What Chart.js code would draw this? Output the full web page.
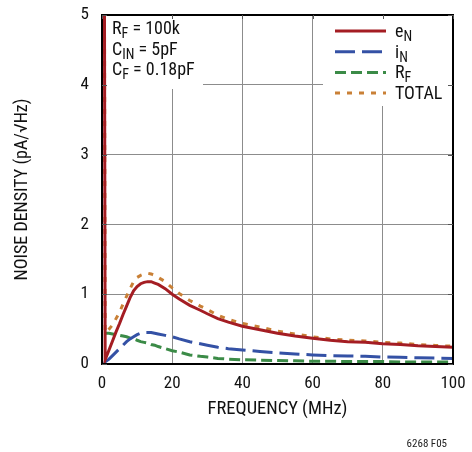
<!DOCTYPE html>
<html><head><meta charset="utf-8">
<script src="https://cdn.jsdelivr.net/npm/chart.js@4/dist/chart.umd.min.js"></script>
<style>html,body{margin:0;padding:0;background:#fff}canvas{display:block}</style>
</head><body>
<canvas id="c" width="472" height="452"></canvas>
<script>
// ---- data ----
const freqMHz = [0.7, 0.9, 2, 3, 4, 5, 6, 7, 8, 9, 10, 11, 12, 13, 14, 15, 16, 18, 20, 22, 25, 28, 30, 33, 36, 40, 45, 50, 55, 60, 65, 70, 75, 80, 85, 90, 95, 100];
const eN    = [5.2, 0.06, 0.2, 0.33, 0.46, 0.58, 0.71, 0.83, 0.95, 1.05, 1.11, 1.15, 1.17, 1.18, 1.18, 1.16, 1.14, 1.08, 1.0, 0.93, 0.84, 0.77, 0.72, 0.65, 0.6, 0.54, 0.49, 0.44, 0.4, 0.37, 0.34, 0.32, 0.31, 0.29, 0.28, 0.26, 0.25, 0.24];
const iN    = [0.0, 0.03, 0.07, 0.12, 0.17, 0.22, 0.27, 0.32, 0.36, 0.39, 0.42, 0.44, 0.45, 0.45, 0.45, 0.44, 0.43, 0.41, 0.39, 0.36, 0.32, 0.29, 0.27, 0.24, 0.22, 0.2, 0.18, 0.16, 0.145, 0.13, 0.12, 0.115, 0.11, 0.1, 0.095, 0.09, 0.085, 0.08];
const rF    = [0.44, 0.44, 0.44, 0.43, 0.42, 0.41, 0.4, 0.39, 0.37, 0.36, 0.34, 0.32, 0.31, 0.3, 0.28, 0.27, 0.25, 0.22, 0.19, 0.17, 0.13, 0.11, 0.1, 0.08, 0.07, 0.06, 0.055, 0.05, 0.045, 0.04, 0.04, 0.035, 0.035, 0.035, 0.03, 0.03, 0.03, 0.03];
const total = [5.2, 0.45, 0.5, 0.56, 0.65, 0.74, 0.86, 0.97, 1.08, 1.18, 1.24, 1.27, 1.29, 1.3, 1.29, 1.27, 1.24, 1.18, 1.09, 1.01, 0.91, 0.83, 0.78, 0.7, 0.64, 0.58, 0.53, 0.47, 0.43, 0.39, 0.36, 0.34, 0.33, 0.31, 0.3, 0.28, 0.265, 0.255];
const xTicks = [0, 20, 40, 60, 80, 100];
const yTicks = [0, 1, 2, 3, 4, 5];
const seriesNames = [["e", "N"], ["i", "N"], ["R", "F"], ["TOTAL", ""]];
const annotationLines = [[["R",""],["F","sub"],[" = 100k",""]], [["C",""],["IN","sub"],[" = 5pF",""]], [["C",""],["F","sub"],[" = 0.18pF",""]]];
const xTitle = "FREQUENCY (MHz)";
const yTitle = "NOISE DENSITY (pA/\u221AHz)";
const figureId = "6268 F05";

const FONT = "'Roboto Condensed', 'Liberation Sans', sans-serif";
const colors = ["#a41d23", "#3451a5", "#3b8b47", "#c98036"];
const dashes = [[], [20, 7], [11, 5], [5, 7]];
const seriesData = [eN, iN, rF, total];

function drawRich(ctx, parts, x, y, size) {
  let cx = x;
  for (const [t, kind] of parts) {
    if (!t) continue;
    if (kind === "sub") {
      ctx.font = `${Math.round(size * 0.8)}px ${FONT}`;
      ctx.fillText(t, cx, y + 4);
    } else {
      ctx.font = `${size}px ${FONT}`;
      ctx.fillText(t, cx, y);
    }
    cx += ctx.measureText(t).width;
  }
}

const overlay = {
  id: "overlay",
  beforeDatasetsDraw(chart) {
    const { ctx, chartArea: a } = chart;
    ctx.save();
    ctx.fillStyle = "#fff";
    ctx.fillRect(a.left, a.top, 101, 74);
    ctx.fillRect(a.right - 130, a.top, 130, 91);
    ctx.restore();
  },
  afterDatasetsDraw(chart) {
    const { ctx, chartArea: a, scales: { x, y } } = chart;
    ctx.save();
    // frame
    ctx.strokeStyle = "#000";
    ctx.lineWidth = 2;
    ctx.strokeRect(a.left, a.top, a.right - a.left, a.bottom - a.top);
    // inward ticks
    ctx.lineWidth = 1;
    ctx.strokeStyle = "#555";
    ctx.beginPath();
    for (const v of xTicks) {
      const px = Math.round(x.getPixelForValue(v)) + 0.5;
      ctx.moveTo(px, a.top); ctx.lineTo(px, a.top + 4);
    }
    for (const v of yTicks) {
      const py = Math.round(y.getPixelForValue(v)) + 0.5;
      ctx.moveTo(a.left, py); ctx.lineTo(a.left + 5, py);
      ctx.moveTo(a.right, py); ctx.lineTo(a.right - 5, py);
    }
    ctx.stroke();
    // annotation
    ctx.fillStyle = "#111";
    ctx.textBaseline = "alphabetic";
    ctx.textAlign = "left";
    annotationLines.forEach((parts, i) => drawRich(ctx, parts, a.left + 10, a.top + 19 + i * 20.5, 18));
    // legend
    seriesNames.forEach((nm, i) => {
      const ly = a.top + 16 + i * 20.7;
      ctx.strokeStyle = colors[i];
      ctx.lineWidth = 3;
      ctx.setLineDash(dashes[i]);
      ctx.beginPath();
      ctx.moveTo(a.right - 118, ly); ctx.lineTo(a.right - 67, ly);
      ctx.stroke();
      ctx.setLineDash([]);
      ctx.fillStyle = "#111";
      drawRich(ctx, [[nm[0], ""], [nm[1], "sub"]], a.right - 58, ly + 6, 18);
    });
    // figure id
    ctx.font = `11px ${FONT}`;
    ctx.textAlign = "right";
    ctx.fillStyle = "#222";
    ctx.fillText(figureId, 447, 447);
    ctx.restore();
  }
};

new Chart(document.getElementById("c"), {
  type: "line",
  data: {
    datasets: seriesData.map((d, i) => ({
      label: seriesNames[i].join(""),
      data: freqMHz.map((f, k) => ({ x: f, y: d[k] })),
      borderColor: colors[i],
      borderWidth: 3,
      borderDash: dashes[i],
      pointRadius: 0,
      tension: 0,
      fill: false
    }))
  },
  options: {
    responsive: false,
    animation: false,
    devicePixelRatio: 1,
    layout: { padding: { left: 0, right: 19, top: 15, bottom: 0 } },
    plugins: { legend: { display: false }, tooltip: { enabled: false } },
    scales: {
      x: {
        type: "linear", min: 0, max: 100,
        afterBuildTicks: s => { s.ticks = xTicks.map(v => ({ value: v })); },
        afterFit: s => { s.height = 88; s.paddingLeft = 0; s.paddingRight = 0; },
        grid: { color: "#8c8c8c", lineWidth: 1, drawTicks: false },
        border: { display: false },
        ticks: { color: "#111", font: { family: FONT, size: 17 }, padding: 10, maxRotation: 0 },
        title: { display: true, text: xTitle, color: "#111", font: { family: FONT, size: 18.5 }, padding: { top: 0, bottom: 32 } }
      },
      y: {
        type: "linear", min: 0, max: 5,
        afterBuildTicks: s => { s.ticks = yTicks.map(v => ({ value: v })); },
        afterFit: s => { s.width = 102; s.paddingTop = 0; s.paddingBottom = 0; },
        grid: { color: "#8c8c8c", lineWidth: 1, drawTicks: false },
        border: { display: false },
        ticks: { color: "#111", font: { family: FONT, size: 17 }, padding: 13 },
        title: { display: true, text: yTitle, color: "#111", font: { family: FONT, size: 18 }, padding: { top: 12, bottom: 0 } }
      }
    }
  },
  plugins: [overlay]
});
</script>
</body></html>
